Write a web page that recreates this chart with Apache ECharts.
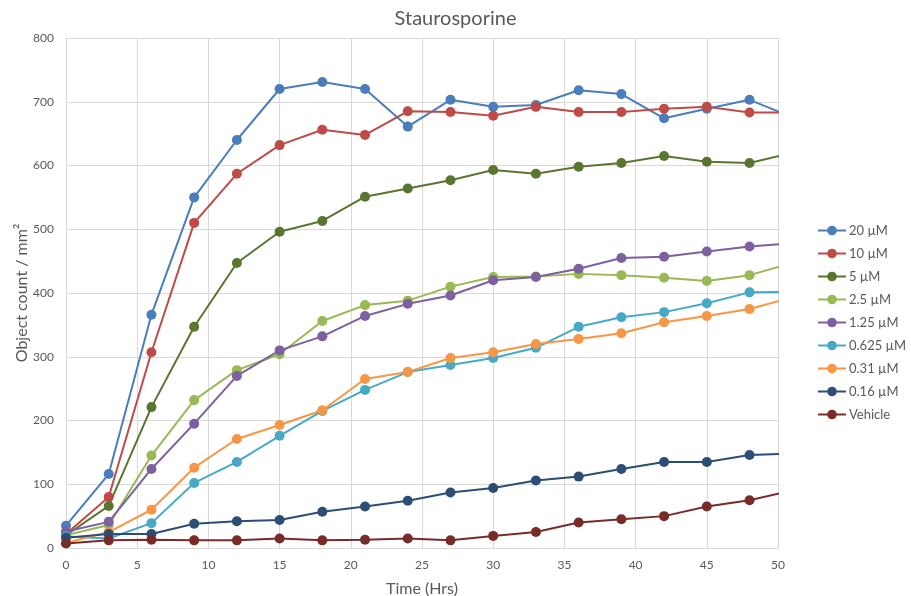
<!DOCTYPE html>
<html>
<head>
<meta charset="utf-8">
<script src="https://cdn.jsdelivr.net/npm/echarts@6/dist/echarts.min.js"></script>
<style>
html,body{margin:0;padding:0;background:#fff;}
#c{width:911px;height:596px;}
</style>
</head>
<body>
<div id="c"></div>
<script>
// Time points (hours); the last point lies past the axis end so the line runs to the edge
const times = [0,3,6,9,12,15,18,21,24,27,30,33,36,39,42,45,48,51];
const seriesNames = ['20 µM','10 µM','5 µM','2.5 µM','1.25 µM','0.625 µM','0.31 µM','0.16 µM','Vehicle'];
const s20 = [35,116,366,550,640,720,731,720,661,703,692,695,718,712,674,689,703,676];
const s10 = [22,80,307,510,587,632,656,648,685,684,678,692,684,684,689,692,683,683];
const s5 = [20,66,221,347,447,496,513,551,564,577,593,587,598,604,615,606,604,620];
const s2_5 = [20,36,145,232,279,304,356,381,388,410,425,426,430,428,424,419,428,447];
const s1_25 = [26,41,124,195,270,310,332,364,383,396,420,425,438,455,457,465,473,478];
const s0_625 = [18,15,39,102,135,176,215,248,276,287,298,314,347,362,370,384,401,402];
const s0_31 = [8,25,60,126,171,193,216,265,276,298,307,320,328,337,354,364,375,393];
const s0_16 = [16,22,22,38,42,44,57,65,74,87,94,106,112,124,135,135,146,148];
const sVehicle = [7,12,13,12,12,15,12,13,15,12,19,25,40,45,50,65,75,90];
const xTicks = {min:0, max:50, interval:5};
const yTicks = {min:0, max:800, interval:100};

const allValues = [s20,s10,s5,s2_5,s1_25,s0_625,s0_31,s0_16,sVehicle];
const colors = ['#4a7ebb','#be4b48','#5a7530','#98b954','#7d60a0','#46aac5','#f79646','#2c4d75','#772c2a'];

const chart = echarts.init(document.getElementById('c'));
const font = 'Lato, "Liberation Sans", sans-serif';
chart.setOption({
  animation:false,
  backgroundColor:'#fff',
  color: colors,
  title:{text:'Staurosporine', left:'center', top:4,
    textStyle:{fontFamily:font, fontSize:20, fontWeight:'normal', color:'#595959'}},
  grid:{left:66, right:133, top:38, bottom:48, outerBoundsMode:'none', containLabel:false},
  legend:{orient:'vertical', left:812, top:219, itemWidth:28, itemHeight:12, itemGap:10,
    data: seriesNames,
    textStyle:{fontFamily:font, fontSize:13, color:'#595959', padding:[0,0,0,-2]}},
  xAxis:{type:'value', min:xTicks.min, max:xTicks.max, interval:xTicks.interval,
    name:'Time (Hrs)', nameLocation:'middle', nameGap:33, nameMoveOverlap:false,
    nameTextStyle:{fontFamily:font, fontSize:16, color:'#595959'},
    axisLine:{show:true, lineStyle:{color:'#d9d9d9'}}, axisTick:{show:false},
    axisLabel:{fontFamily:font, fontSize:12, color:'#595959', margin:11},
    splitLine:{show:true, lineStyle:{color:'#d9d9d9'}}},
  yAxis:{type:'value', min:yTicks.min, max:yTicks.max, interval:yTicks.interval,
    name:'Object count / mm²', nameLocation:'middle', nameGap:36, nameMoveOverlap:false,
    nameTextStyle:{fontFamily:font, fontSize:16, color:'#595959'},
    axisLine:{show:true, lineStyle:{color:'#d9d9d9'}}, axisTick:{show:false},
    axisLabel:{fontFamily:font, fontSize:12, color:'#595959', margin:12},
    splitLine:{show:true, lineStyle:{color:'#d9d9d9'}}},
  series: seriesNames.map((n,i)=>({
    name:n, type:'line', clip:true,
    data: times.map((t,j)=>[t, allValues[i][j]]),
    symbol:'circle', symbolSize:10, showSymbol:true,
    lineStyle:{width:2, color:colors[i]},
    itemStyle:{color:colors[i]}
  }))
});
</script>
</body>
</html>
